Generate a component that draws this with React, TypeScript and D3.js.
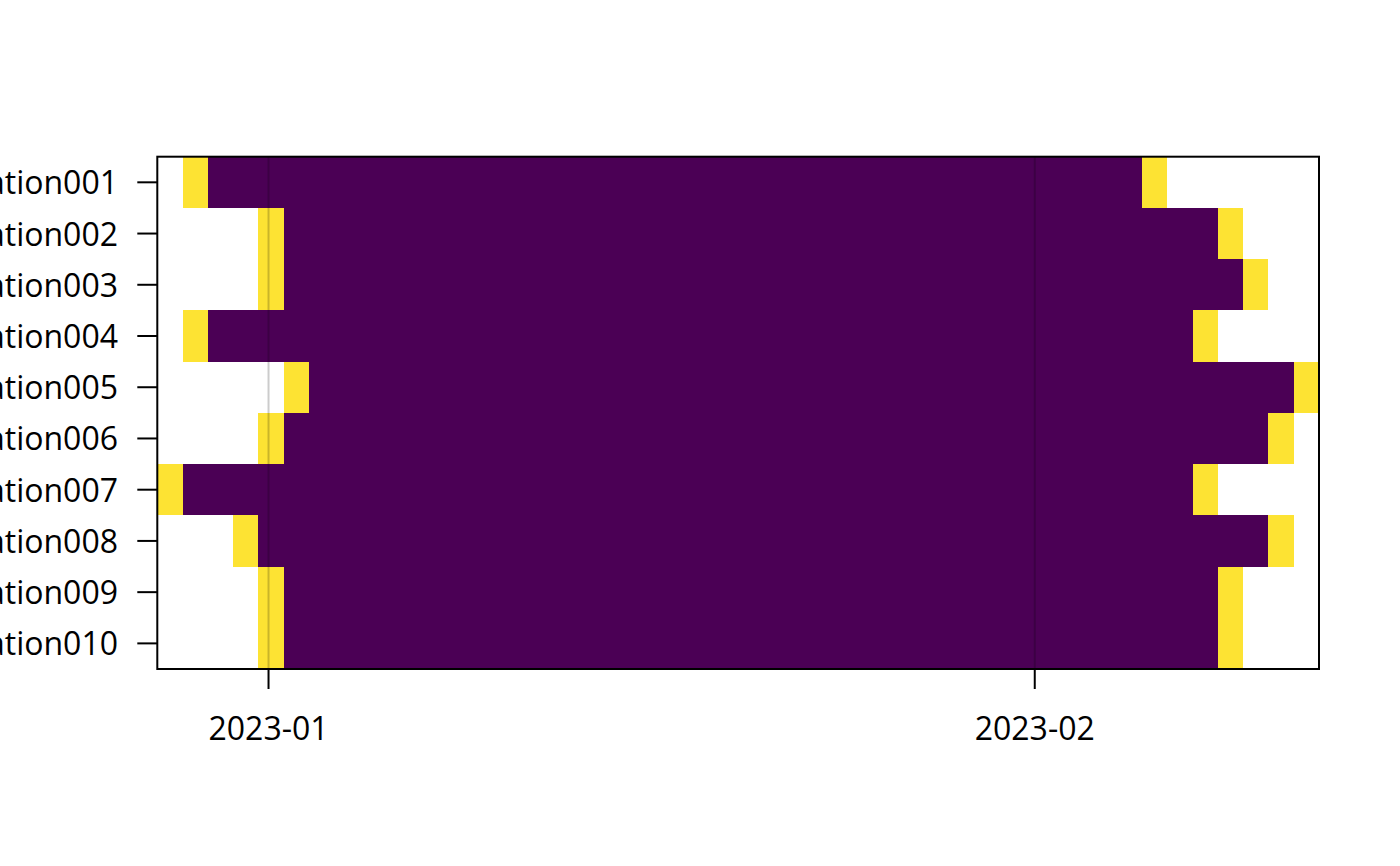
import React from 'react';
import * as d3 from 'd3';

// stations, top to bottom
const stations = [
  'Station001', 'Station002', 'Station003', 'Station004', 'Station005',
  'Station006', 'Station007', 'Station008', 'Station009', 'Station010',
];

// first and last recorded day per station (edge days flagged)
const startDays = [
  '2022-12-29', '2023-01-01', '2023-01-01', '2022-12-29', '2023-01-02',
  '2023-01-01', '2022-12-28', '2022-12-31', '2023-01-01', '2023-01-01',
];
const endDays = [
  '2023-02-05', '2023-02-08', '2023-02-09', '2023-02-07', '2023-02-11',
  '2023-02-10', '2023-02-07', '2023-02-10', '2023-02-08', '2023-02-08',
];

// image cells: one column per day
const firstCell = '2022-12-28';
const lastCell = '2023-02-11';
// axis time range
const axisStart = '2022-12-27T12:00:00';
const axisEnd = '2023-02-12T12:00:00';

const colors = ['#4B0055', '#FDE333'];

const W = 1400;
const H = 866;
const plot = { left: 157.3, right: 1319, top: 156.7, bottom: 669 };
const FONT = '"Open Sans", "Noto Sans", sans-serif';
const FS = 32;

const parseDay = d3.timeParse('%Y-%m-%d');
const parseTime = d3.timeParse('%Y-%m-%dT%H:%M:%S');
const fmtDay = d3.timeFormat('%Y-%m-%d');

export default function App() {
  const days = d3
    .timeDay
    .range(parseDay(firstCell)!, d3.timeDay.offset(parseDay(lastCell)!, 1))
    .map(fmtDay);

  const xCell = d3.scaleBand<string>().domain(days).range([plot.left, plot.right]).padding(0);
  const xTime = d3
    .scaleTime()
    .domain([parseTime(axisStart)!, parseTime(axisEnd)!])
    .range([plot.left, plot.right]);
  const y = d3.scaleBand<string>().domain(stations).range([plot.top, plot.bottom]).padding(0);

  const monthTicks = d3.timeMonth.range(parseTime(axisStart)!, parseTime(axisEnd)!);
  const fmtMonth = d3.timeFormat('%Y-%m');

  const bw = xCell.bandwidth();
  const bh = y.bandwidth();

  return (
    <svg
      width={W}
      height={H}
      style={{ position: 'absolute', left: 0, top: 0, background: '#fff' }}
      fontFamily={FONT}
    >
      <g shapeRendering="crispEdges">
        {stations.map((s, i) => {
          const x0 = xCell(startDays[i])!;
          const x1 = xCell(endDays[i])!;
          return (
            <g key={s}>
              <rect x={x0 + bw} y={y(s)} width={x1 - x0 - bw} height={bh} fill={colors[0]} />
              <rect x={x0} y={y(s)} width={bw} height={bh} fill={colors[1]} />
              <rect x={x1} y={y(s)} width={bw} height={bh} fill={colors[1]} />
            </g>
          );
        })}
      </g>

      {/* month grid lines */}
      {monthTicks.map(t => (
        <line
          key={'g' + +t}
          x1={xTime(t)}
          x2={xTime(t)}
          y1={plot.top}
          y2={plot.bottom}
          stroke="rgba(0,0,0,0.2)"
          strokeWidth={2}
        />
      ))}

      {/* frame */}
      <rect
        x={plot.left}
        y={plot.top}
        width={plot.right - plot.left}
        height={plot.bottom - plot.top}
        fill="none"
        stroke="#000"
        strokeWidth={2}
      />

      {/* x axis */}
      {monthTicks.map(t => (
        <g key={'x' + +t}>
          <line x1={xTime(t)} x2={xTime(t)} y1={plot.bottom} y2={plot.bottom + 20} stroke="#000" strokeWidth={2} />
          <text x={xTime(t)} y={739.5} textAnchor="middle" fontSize={FS} fill="#000">
            {fmtMonth(t)}
          </text>
        </g>
      ))}

      {/* y axis */}
      {stations.map(s => {
        const cy = y(s)! + bh / 2;
        return (
          <g key={'y' + s}>
            <line x1={plot.left - 20} x2={plot.left} y1={cy} y2={cy} stroke="#000" strokeWidth={2} />
            <text x={118} y={cy + 12} textAnchor="end" fontSize={FS} fill="#000">
              {s}
            </text>
          </g>
        );
      })}
    </svg>
  );
}
